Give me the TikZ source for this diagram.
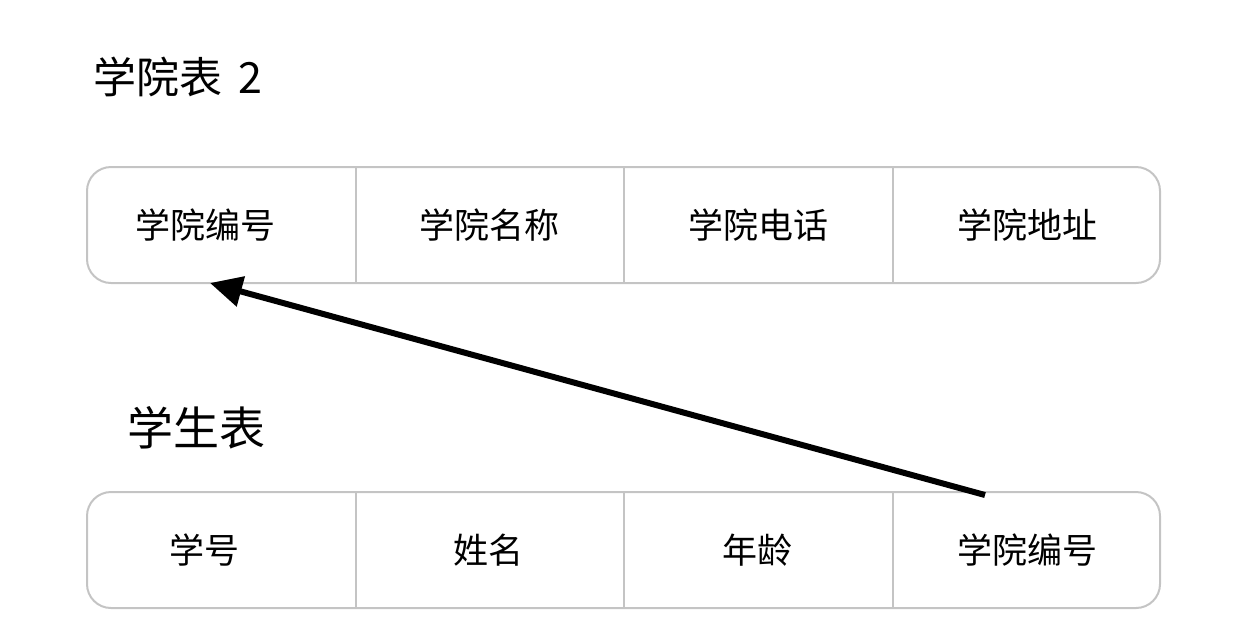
\documentclass[tikz,border=0pt]{standalone}
\usepackage{fontspec}
\setmainfont{Noto Sans CJK SC}
\usepackage{tikz}
\usetikzlibrary{arrows.meta, positioning}
\definecolor{CellLine}{HTML}{C4C4C4}

\begin{document}
\begin{tikzpicture}[x=0.5pt, y=-0.5pt,
  cell/.style={inner sep=0pt, font=\fontsize{17.5}{20}\selectfont},
  tablebox/.style={draw=CellLine, line width=1pt, rounded corners=12pt},
  divider/.style={draw=CellLine, line width=1pt},
  tabletitle/.style={anchor=west, inner sep=0pt, font=\fontsize{21.5}{24}\selectfont},
  link/.style={line width=3pt, -{Triangle[length=16pt, width=15pt]}}]
  \useasboundingbox (0,0) rectangle (1240,634);

  % college table
  \node[tabletitle] (ctitle) at (93,77) {学院表\hspace{3pt} 2};
  \coordinate (cnw) at (87,167);
  \coordinate (cse) at (1160,283);
  \draw[tablebox] (cnw) rectangle (cse);
  \foreach \x in {356,624,893}{
    \draw[divider] (cnw -| \x,0) -- (cse -| \x,0);
  }
  \foreach \i/\x/\txt in {1/205.5/学院编号, 2/489.5/学院名称, 3/758/学院电话, 4/1027/学院地址}{
    \node[cell] (c\i) at (\x,225) {\txt};
  }

  % student table
  \node[tabletitle, font=\fontsize{23}{26}\selectfont] (stitle) at (127,428) {学生表};
  \coordinate (snw) at (87,492);
  \coordinate (sse) at (1160,608);
  \draw[tablebox] (snw) rectangle (sse);
  \foreach \x in {356,624,893}{
    \draw[divider] (snw -| \x,0) -- (sse -| \x,0);
  }
  \foreach \i/\x/\txt in {1/204/学号, 2/488/姓名, 3/757.5/年龄, 4/1027/学院编号}{
    \node[cell] (s\i) at (\x,550) {\txt};
  }

  % foreign key
  \coordinate (fkstart) at (985,495);
  \coordinate (fkend) at (210,283);
  \draw[link] (fkstart) -- (fkend);
\end{tikzpicture}
\end{document}
